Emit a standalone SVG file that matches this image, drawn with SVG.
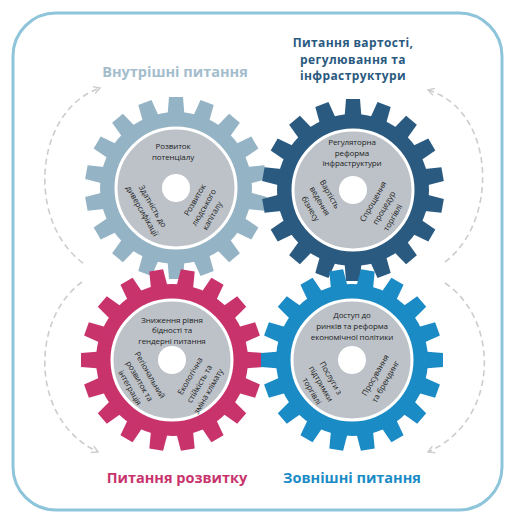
<svg xmlns="http://www.w3.org/2000/svg" xmlns:xlink="http://www.w3.org/1999/xlink" width="505" height="514" viewBox="0 0 505 514">
<style>
.hd{font-family:"Open Sans","Noto Sans","DejaVu Sans",sans-serif;font-weight:700;text-anchor:middle}
.t{font-family:"Open Sans","Noto Sans","DejaVu Sans",sans-serif;font-size:8px;letter-spacing:-0.1px;fill:#1e1e1e;text-anchor:middle}
.arc{fill:none;stroke:#cdcdcd;stroke-width:1.6;stroke-dasharray:6 4}
.disc{fill:#bcc2c8;stroke:#ffffff;stroke-width:3}
.hole{fill:#ffffff}
</style>
<defs>
<marker id="ah" viewBox="0 0 10 10" refX="8" refY="5" markerWidth="9" markerHeight="9" orient="auto" markerUnits="userSpaceOnUse">
<path d="M1,1 L8,5 L1,9" fill="none" stroke="#cdcdcd" stroke-width="1.6"/>
</marker>
<g id="gear">
<circle r="76"/>
<path id="tooth" d="M-8.5,-72 L-7,-91 L7,-91 L8.5,-72 Z"/>
<use xlink:href="#tooth" transform="rotate(20)"/>
<use xlink:href="#tooth" transform="rotate(40)"/>
<use xlink:href="#tooth" transform="rotate(60)"/>
<use xlink:href="#tooth" transform="rotate(80)"/>
<use xlink:href="#tooth" transform="rotate(100)"/>
<use xlink:href="#tooth" transform="rotate(120)"/>
<use xlink:href="#tooth" transform="rotate(140)"/>
<use xlink:href="#tooth" transform="rotate(160)"/>
<use xlink:href="#tooth" transform="rotate(180)"/>
<use xlink:href="#tooth" transform="rotate(200)"/>
<use xlink:href="#tooth" transform="rotate(220)"/>
<use xlink:href="#tooth" transform="rotate(240)"/>
<use xlink:href="#tooth" transform="rotate(260)"/>
<use xlink:href="#tooth" transform="rotate(280)"/>
<use xlink:href="#tooth" transform="rotate(300)"/>
<use xlink:href="#tooth" transform="rotate(320)"/>
<use xlink:href="#tooth" transform="rotate(340)"/>
</g>
</defs>
<rect width="505" height="514" fill="#ffffff"/>
<rect id="frame" x="13" y="13" width="489" height="497" rx="43" fill="none" stroke="#8ec5da" stroke-width="3"/>

<g id="connectors">
<path class="arc" d="M83,263 C25,220 35,110 100,88" marker-end="url(#ah)"/>
<path class="arc" d="M82,282 C30,320 30,420 98,452" marker-end="url(#ah)"/>
<path class="arc" d="M445,262 C500,220 495,110 428,90" marker-end="url(#ah)"/>
<path class="arc" d="M445,283 C500,320 500,420 428,452" marker-end="url(#ah)"/>
</g>

<g id="heading-internal"><text class="hd" x="175" y="77" font-size="14.5" fill="#a3bdcc">Внутрішні питання</text></g>
<g id="heading-cost"><text class="hd" x="353" y="47" font-size="12" letter-spacing="0.4" fill="#2a5a80">Питання вартості,<tspan x="353" y="63.5">регулювання та</tspan><tspan x="353" y="80">інфраструктури</tspan></text></g>
<g id="heading-dev"><text class="hd" x="177" y="483" font-size="14.5" fill="#c8336c">Питання розвитку</text></g>
<g id="heading-external"><text class="hd" x="352" y="483" font-size="14.5" fill="#1a8bc5">Зовнішні питання</text></g>

<g id="gear-internal" transform="translate(176,188)">
<use xlink:href="#gear" fill="#94b3c4"/>
<circle class="disc" r="60"/>
<circle class="hole" r="14"/>
<text class="t" x="-3" y="-39">Розвиток<tspan x="-3" y="-28">потенціалу</tspan></text>
<g transform="rotate(60)"><text class="t" x="4" y="32">Здатність до<tspan x="3" y="43.5">диверсифікації</tspan></text></g>
<g transform="rotate(-60)"><text class="t" x="-1" y="25">Розвиток<tspan x="-3" y="36.5">людського</tspan><tspan x="-6" y="48">капіталу</tspan></text></g>
</g>

<g id="gear-cost" transform="translate(353,190)">
<use xlink:href="#gear" fill="#2a5a80"/>
<circle class="disc" r="60"/>
<circle class="hole" r="14"/>
<text class="t" x="-1" y="-45">Регуляторна<tspan x="-1" y="-34">реформа</tspan><tspan x="-1" y="-24">інфраструктури</tspan></text>
<g transform="rotate(60)"><text class="t" x="-8" y="25">Вартість<tspan x="-7" y="37">ведення</tspan><tspan x="-5" y="49">бізнесу</tspan></text></g>
<g transform="rotate(-60)"><text class="t" x="0" y="26">Спрощення<tspan x="0" y="38.5">процедур</tspan><tspan x="-4" y="51">торгівлі</tspan></text></g>
</g>

<g id="gear-dev" transform="translate(172,360)">
<use xlink:href="#gear" fill="#c8336c" transform="rotate(10)"/>
<circle class="disc" r="60"/>
<circle class="hole" r="14"/>
<text class="t" x="0" y="-37.5">Зниження рівня<tspan x="0" y="-27">бідності та</tspan><tspan x="0" y="-16.5">гендерні питання</tspan></text>
<g transform="rotate(60)"><text class="t" x="2" y="29.5">Регіональний<tspan x="2" y="41.5">розвиток та</tspan><tspan x="3" y="53">інтеграція</tspan></text></g>
<g transform="rotate(-60)"><text class="t" x="-5" y="26.5">Екологічна<tspan x="-7" y="38.5">стійкість та</tspan><tspan x="-9" y="50">зміна клімату</tspan></text></g>
</g>

<g id="gear-external" transform="translate(352,360)">
<use xlink:href="#gear" fill="#1a8bc5" transform="rotate(10)"/>
<circle class="disc" r="60"/>
<circle class="hole" r="14"/>
<text class="t" x="0" y="-42">Доступ до<tspan x="0" y="-31">ринків та реформа</tspan><tspan x="0" y="-20">економічної політики</tspan></text>
<g transform="rotate(60)"><text class="t" x="5" y="30">Послуги з<tspan x="5" y="41.5">підтримки</tspan><tspan x="7" y="53">торгівлі</tspan></text></g>
<g transform="rotate(-60)"><text class="t" x="-1.5" y="30.5">Просування<tspan x="-2" y="42.5">та брендинг</tspan></text></g>
</g>
</svg>
